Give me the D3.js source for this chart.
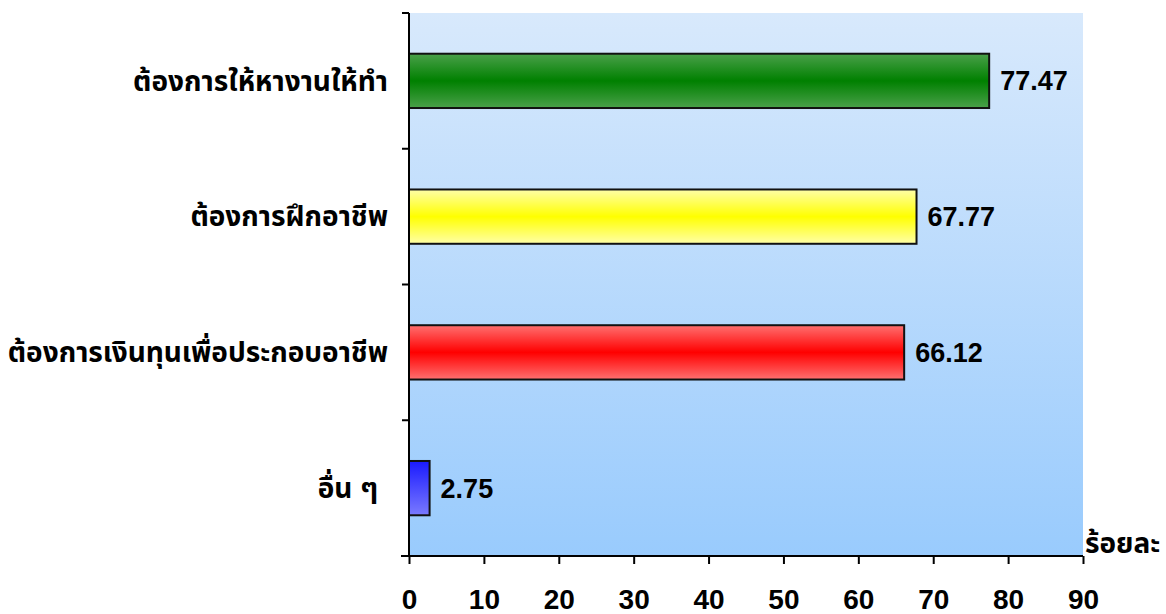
<!DOCTYPE html>
<html>
<head>
<meta charset="utf-8">
<script src="https://cdn.jsdelivr.net/npm/d3@7"></script>
<style>
body { margin: 0; background: #fff; }
text { font-family: "Liberation Sans", Arial, "Noto Sans Thai", Tahoma, sans-serif; font-weight: bold; fill: #000; }
</style>
</head>
<body>
<div id="chart"></div>
<script>
var categories = ["ต้องการให้หางานให้ทำ", "ต้องการฝึกอาชีพ", "ต้องการเงินทุนเพื่อประกอบอาชีพ", "อื่น ๆ"];
var values = [77.47, 67.77, 66.12, 2.75];
var barColors = [
	["#4aa04a", "#008000"],
	["#ffffa8", "#ffff00"],
	["#ff7070", "#ff0000"],
	["#1a1aff", "#7a7aff"]
];
var xTicks = [0, 10, 20, 30, 40, 50, 60, 70, 80, 90];
var unitLabel = "ร้อยละ";

var width = 1166, height = 614;
var plotLeft = 409, plotRight = 1083, plotTop = 13, plotBottom = 556;

var svg = d3.select("#chart").append("svg")
	.attr("width", width)
	.attr("height", height);

var defs = svg.append("defs");
var bg = defs.append("linearGradient").attr("id", "bg")
	.attr("x1", 0).attr("y1", 0).attr("x2", 0).attr("y2", 1);
bg.append("stop").attr("offset", "0%").attr("stop-color", "#d8e9fc");
bg.append("stop").attr("offset", "100%").attr("stop-color", "#99cbfd");

barColors.forEach(function(c, i) {
	var g = defs.append("linearGradient").attr("id", "bar" + i)
		.attr("x1", 0).attr("y1", 0).attr("x2", 0).attr("y2", 1);
	if (i == 3) {
		g.append("stop").attr("offset", "0%").attr("stop-color", c[0]);
		g.append("stop").attr("offset", "100%").attr("stop-color", c[1]);
	} else {
		g.append("stop").attr("offset", "0%").attr("stop-color", c[0]);
		g.append("stop").attr("offset", "50%").attr("stop-color", c[1]);
		g.append("stop").attr("offset", "100%").attr("stop-color", c[0]);
	}
});

var x = d3.scaleLinear().domain([0, 90]).range([plotLeft, plotRight]);
var y = d3.scaleBand().domain(categories).range([plotTop, plotBottom]).paddingInner(0.6).paddingOuter(0.3);

svg.append("rect")
	.attr("x", plotLeft).attr("y", plotTop)
	.attr("width", plotRight - plotLeft).attr("height", plotBottom - plotTop)
	.attr("fill", "url(#bg)");

svg.selectAll("rect.bar")
	.data(values)
	.enter()
	.append("rect")
	.attr("class", "bar")
	.attr("x", x(0))
	.attr("y", function(d, i) { return y(categories[i]); })
	.attr("width", function(d) { return x(d) - x(0); })
	.attr("height", y.bandwidth())
	.attr("fill", function(d, i) { return "url(#bar" + i + ")"; })
	.attr("stroke", "#111")
	.attr("stroke-width", 2);

svg.selectAll("text.val")
	.data(values)
	.enter()
	.append("text")
	.attr("class", "val")
	.attr("x", function(d) { return x(d) + 11; })
	.attr("y", function(d, i) { return y(categories[i]) + y.bandwidth() / 2; })
	.attr("dy", "0.35em")
	.style("font-size", "27px")
	.text(function(d) { return d.toFixed(2); });

// category axis, ticks on band boundaries
var step = (plotBottom - plotTop) / categories.length;
var yAxis = svg.append("g");
yAxis.append("line")
	.attr("x1", plotLeft).attr("x2", plotLeft).attr("y1", plotTop).attr("y2", plotBottom)
	.attr("stroke", "#000").attr("stroke-width", 2);
d3.range(categories.length + 1).forEach(function(i) {
	yAxis.append("line")
		.attr("x1", plotLeft - 7).attr("x2", plotLeft)
		.attr("y1", plotTop + i * step).attr("y2", plotTop + i * step)
		.attr("stroke", "#000").attr("stroke-width", 2);
});
yAxis.selectAll("text")
	.data(categories)
	.enter()
	.append("text")
	.attr("x", function(d, i) { return i == 3 ? 378 : 388; })
	.attr("y", function(d) { return y(d) + y.bandwidth() / 2; })
	.attr("dy", "0.35em")
	.attr("text-anchor", "end")
	.style("font-size", "28px")
	.text(function(d) { return d; });

var xAxis = svg.append("g")
	.attr("transform", "translate(0," + plotBottom + ")")
	.call(d3.axisBottom(x).tickValues(xTicks).tickSize(8).tickPadding(25).tickSizeOuter(0));
xAxis.select(".domain").attr("stroke", "#000").attr("stroke-width", 2)
	.attr("d", "M" + (plotLeft - 8) + ",0H" + plotRight);
xAxis.selectAll(".tick line").attr("stroke", "#000").attr("stroke-width", 2);
xAxis.selectAll(".tick text")
	.style("font-size", "28px")
	.style("font-family", "'Liberation Sans', Arial, sans-serif")
	.style("font-weight", "bold")
	.attr("fill", "#000");

svg.append("text")
	.attr("x", plotRight + 2)
	.attr("y", plotBottom - 3)
	.style("font-size", "28px")
	.text(unitLabel);
</script>
</body>
</html>
